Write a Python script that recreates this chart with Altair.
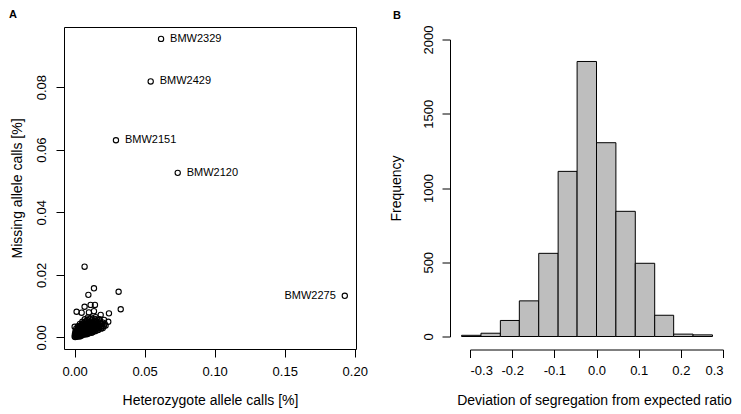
import altair as alt
import pandas as pd

FONT = "Liberation Sans"

# ---------------- Panel A data ----------------
cluster_het = [
    0.0000, 0.0004, 0.0009, 0.0015, 0.0021, 0.0028, 0.0036, 0.0045, 0.0053,
    0.0002, 0.0011, 0.0019, 0.0027, 0.0034, 0.0043, 0.0051, 0.0060, 0.0068, 0.0077, 0.0086, 0.0095,
    0.0005, 0.0013, 0.0022, 0.0031, 0.0040, 0.0049, 0.0058, 0.0066, 0.0075, 0.0084, 0.0093, 0.0102, 0.0111, 0.0121, 0.0130,
    0.0008, 0.0017, 0.0026, 0.0035, 0.0044, 0.0053, 0.0062, 0.0071, 0.0080, 0.0089, 0.0098, 0.0107, 0.0117, 0.0126, 0.0135, 0.0145, 0.0156, 0.0168,
    0.0012, 0.0022, 0.0031, 0.0040, 0.0049, 0.0058, 0.0067, 0.0076, 0.0085, 0.0094, 0.0103, 0.0112, 0.0122, 0.0131, 0.0141, 0.0151, 0.0162, 0.0174, 0.0188, 0.0201,
    0.0024, 0.0035, 0.0046, 0.0057, 0.0068, 0.0079, 0.0090, 0.0101, 0.0112, 0.0123, 0.0134, 0.0145, 0.0156, 0.0167, 0.0179, 0.0192, 0.0208, 0.0221,
    0.0038, 0.0050, 0.0062, 0.0074, 0.0086, 0.0098, 0.0110, 0.0122, 0.0134, 0.0146, 0.0158, 0.0170, 0.0183, 0.0197, 0.0214,
    0.0055, 0.0069, 0.0083, 0.0097, 0.0111, 0.0125, 0.0139, 0.0153, 0.0167, 0.0182, 0.0198,
    0.0072, 0.0090, 0.0108, 0.0126, 0.0144, 0.0162, 0.0178,
    0.0095, 0.0120, 0.0150,
]
cluster_miss = [
    0.0003, 0.0001, 0.0005, 0.0002, 0.0004, 0.0006, 0.0003, 0.0005, 0.0007,
    0.0010, 0.0008, 0.0012, 0.0009, 0.0011, 0.0008, 0.0010, 0.0012, 0.0009, 0.0011, 0.0010, 0.0012,
    0.0016, 0.0014, 0.0018, 0.0015, 0.0017, 0.0014, 0.0016, 0.0018, 0.0015, 0.0017, 0.0014, 0.0016, 0.0018, 0.0015, 0.0017,
    0.0022, 0.0020, 0.0024, 0.0021, 0.0023, 0.0020, 0.0022, 0.0024, 0.0021, 0.0023, 0.0020, 0.0022, 0.0024, 0.0021, 0.0023, 0.0020, 0.0022, 0.0024,
    0.0029, 0.0027, 0.0031, 0.0028, 0.0030, 0.0027, 0.0029, 0.0031, 0.0028, 0.0030, 0.0027, 0.0029, 0.0031, 0.0028, 0.0030, 0.0027, 0.0029, 0.0031, 0.0028, 0.0030,
    0.0036, 0.0034, 0.0038, 0.0035, 0.0037, 0.0034, 0.0036, 0.0038, 0.0035, 0.0037, 0.0034, 0.0036, 0.0038, 0.0035, 0.0037, 0.0034, 0.0036, 0.0038,
    0.0043, 0.0041, 0.0045, 0.0042, 0.0044, 0.0041, 0.0043, 0.0045, 0.0042, 0.0044, 0.0041, 0.0043, 0.0045, 0.0042, 0.0044,
    0.0050, 0.0048, 0.0052, 0.0049, 0.0051, 0.0048, 0.0050, 0.0052, 0.0049, 0.0051, 0.0048,
    0.0058, 0.0056, 0.0060, 0.0057, 0.0059, 0.0056, 0.0058,
    0.0064, 0.0063, 0.0065,
]
outlier_het = [0.0014, 0.0050, 0.0071, 0.0102, 0.0114, 0.0145, 0.0138, 0.0186, 0.0210,
               0.0240, 0.0245, 0.0000, 0.0071, 0.0138, 0.0098, 0.0314, 0.0329]
outlier_miss = [0.0082, 0.0079, 0.0098, 0.0080, 0.0104, 0.0104, 0.0084, 0.0072, 0.0056,
                0.0050, 0.0077, 0.0034, 0.0226, 0.0157, 0.0136, 0.0146, 0.0090]
marker_names = ["BMW2329", "BMW2429", "BMW2151", "BMW2120", "BMW2275"]
marker_het = [0.0617, 0.0543, 0.0295, 0.0736, 0.1929]
marker_miss = [0.0954, 0.0818, 0.0630, 0.0526, 0.0133]
marker_side = ["right", "right", "right", "right", "left"]

xa_ticks = [0.00, 0.05, 0.10, 0.15, 0.20]
ya_ticks = [0.00, 0.02, 0.04, 0.06, 0.08]

# ---------------- Panel B data ----------------
bin_start = [-0.320, -0.274, -0.228, -0.183, -0.137, -0.091, -0.046, 0.000, 0.046, 0.092, 0.138, 0.183, 0.229]
bin_end = [-0.274, -0.228, -0.183, -0.137, -0.091, -0.046, 0.000, 0.046, 0.092, 0.138, 0.183, 0.229, 0.275]
frequency = [8, 22, 108, 240, 560, 1112, 1852, 1305, 843, 493, 143, 16, 11]

xb_ticks = [-0.3, -0.2, -0.1, 0.0, 0.1, 0.2, 0.3]
yb_ticks = [0, 500, 1000, 1500, 2000]

# ---------------- build ----------------
points = pd.DataFrame({
    "het": cluster_het + outlier_het + marker_het,
    "miss": cluster_miss + outlier_miss + marker_miss,
})
markers = pd.DataFrame({"name": marker_names, "het": marker_het,
                        "miss": marker_miss, "side": marker_side})
hist = pd.DataFrame({"start": bin_start, "end": bin_end, "count": frequency})

ax = dict(labelFont=FONT, titleFont=FONT, labelColor="black", titleColor="black",
          tickColor="black", domainColor="black", labelFontSize=13, titleFontSize=14,
          titleFontWeight="normal", tickSize=8, tickWidth=1, domainWidth=1, grid=False)

xA = alt.X("het:Q", scale=alt.Scale(domain=[-0.0076, 0.2009], nice=False, zero=False),
           axis=alt.Axis(title="Heterozygote allele calls [%]", values=xa_ticks, format=".2f",
                         domain=False, labelPadding=8, titleY=55, titleBaseline="alphabetic", **ax))
yA = alt.Y("miss:Q", scale=alt.Scale(domain=[-0.0037, 0.0992], nice=False, zero=False),
           axis=alt.Axis(title="Missing allele calls [%]", values=ya_ticks, format=".2f",
                         domain=False, labelAngle=270, labelAlign="center",
                         labelBaseline="alphabetic", labelPadding=11,
                         titleX=-47, titleBaseline="middle", **ax))

pts = alt.Chart(points).mark_point(shape="circle", filled=False, color="black",
                                   size=28, strokeWidth=1.1, opacity=1).encode(x=xA, y=yA)
lab_r = alt.Chart(markers).transform_filter("datum.side == 'right'").mark_text(
    align="left", baseline="middle", dx=9, fontSize=11, font=FONT, color="black"
).encode(x="het:Q", y="miss:Q", text="name:N")
lab_l = alt.Chart(markers).transform_filter("datum.side == 'left'").mark_text(
    align="right", baseline="middle", dx=-9, fontSize=11, font=FONT, color="black"
).encode(x="het:Q", y="miss:Q", text="name:N")
tagA = alt.Chart(pd.DataFrame({"t": ["A"]})).mark_text(
    align="left", baseline="top", fontSize=11, fontWeight="bold", font=FONT, color="black"
).encode(x=alt.value(-55), y=alt.value(-18), text="t:N")

panelA = alt.layer(pts, lab_r, lab_l, tagA).properties(
    width=292, height=322,
    view=alt.ViewBackground(stroke="black", strokeWidth=1))

xB = alt.X("start:Q", scale=alt.Scale(domain=[-0.3, 0.3], nice=False, zero=False),
           axis=alt.Axis(title="Deviation of segregation from expected ratio", values=xb_ticks,
                         labelExpr="replace(format(datum.value, '.1f'), '\u2212', '-')",
                         offset=13, labelPadding=7, titleX=124, titleY=55,
                         titleBaseline="alphabetic", **ax))
yB = alt.Y("count:Q", scale=alt.Scale(domain=[0, 2000], nice=False, zero=True),
           axis=alt.Axis(title="Frequency", values=yb_ticks, format="d", offset=20,
                         labelAngle=270, labelAlign="center", labelBaseline="alphabetic",
                         labelPadding=10, titleX=-54, titleBaseline="middle", **ax))

bars = alt.Chart(hist).mark_rect(fill="#BEBEBE", stroke="black", strokeWidth=1).encode(
    x=xB, x2="end:Q", y=yB, y2=alt.datum(0))
tagB = alt.Chart(pd.DataFrame({"t": ["B"]})).mark_text(
    align="left", baseline="top", fontSize=11, fontWeight="bold", font=FONT, color="black"
).encode(x=alt.value(-77), y=alt.value(-30), text="t:N")

panelB = alt.layer(bars, tagB).properties(
    width=253, height=297,
    view=alt.ViewBackground(stroke="transparent", strokeWidth=0))

chart = alt.hconcat(panelA, panelB, spacing=114, bounds="flush", center=True).properties(
    padding=0, background="white"
).configure(font=FONT)

chart.save("out.html", embed_options={"renderer": "svg", "actions": False})
